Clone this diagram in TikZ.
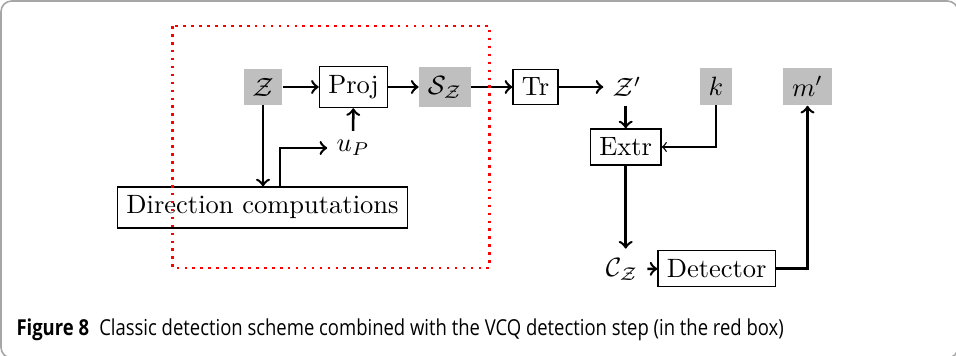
\documentclass[tikz,border=0pt]{standalone}
\usepackage{fontspec}
\usepackage{graphicx}
\newfontfamily\capfont{Open Sans}
\begin{document}
\begin{tikzpicture}[x=0.3776pt,y=-0.3776pt,
  boxnode/.style={draw,line width=0.5pt},
  graynode/.style={fill=gray!50},
  plain/.style={},
  conn/.style={->,line width=0.95pt},
  thinconn/.style={->,line width=0.5pt}]
\useasboundingbox (0,0) rectangle (956,356);
\draw[gray!70,line width=0.6pt,rounded corners=4pt] (1,1) rectangle (958,358);
% nodes
\node[graynode] (Z) at (263,87) {$\mathcal{Z}$};
\node[boxnode] (Proj) at (353.5,87) {Proj};
\node[graynode] (SZ) at (445,87) {$\mathcal{S}_{\mathcal{Z}}$};
\node[boxnode] (Tr) at (535.5,87) {Tr};
\node[plain] (Zp) at (627,87) {$\mathcal{Z}'$};
\node[graynode] (k) at (716,86.5) {$k$};
\node[graynode] (mp) at (807.5,86.5) {$m'$};
\node[plain] (uP) at (353,148) {$u_P$};
\node[boxnode] (Dir) at (262.5,207.5) {Direction computations};
\node[boxnode] (Extr) at (625.7,147) {Extr};
\node[plain] (CZ) at (622,269) {$\mathcal{C}_{\mathcal{Z}}$};
\node[boxnode] (Det) at (716.7,268.5) {Detector};
\coordinate (dcu) at (280,207.5);
% connectors
\draw[conn] (Z) -- (Proj);
\draw[conn] (Proj) -- (SZ);
\draw[conn] (SZ) -- (Tr);
\draw[conn] (Tr) -- (Zp);
\draw[conn] (uP) -- (Proj);
\draw[conn] (Z) -- (Z |- Dir.north);
\draw[conn] (dcu |- Dir.north) |- (uP.west);
\draw[conn] (Extr.north |- Zp.south) -- (Extr.north);
\draw[thinconn] (k.south) |- (Extr.east);
\draw[conn] (Extr.south) -- (Extr.south |- CZ.north);
\draw[conn] (CZ) -- (Det);
\draw[conn] (Det.east) -| (mp.south);
% red box
\draw[red,line width=1pt,dash pattern=on 1pt off 2pt] (172.3,26) rectangle (489.3,268);
% caption
\node[anchor=base west,inner sep=0] (cap) at (16,335.7) {\capfont\fontsize{8.3}{10}\selectfont\scalebox{0.84}[1]{\textbf{Figure 8}\hspace{0.55em}Classic detection scheme combined with the VCQ detection step (in the red box)}};
\end{tikzpicture}
\end{document}
